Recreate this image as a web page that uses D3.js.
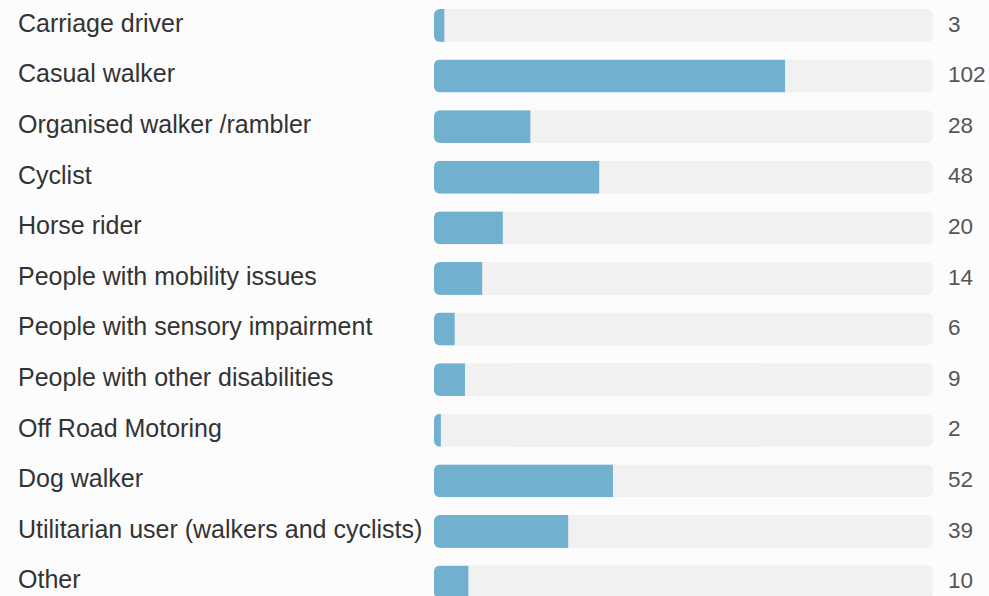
<!DOCTYPE html>
<html>
<head>
<meta charset="utf-8">
<script src="https://cdn.jsdelivr.net/npm/d3@7"></script>
<style>
  html, body { margin: 0; padding: 0; background: #fcfcfc; }
  svg { display: block; }
</style>
</head>
<body>
<div id="chart"></div>
<script>
// Data
const categories = [
  "Carriage driver",
  "Casual walker",
  "Organised walker /rambler",
  "Cyclist",
  "Horse rider",
  "People with mobility issues",
  "People with sensory impairment",
  "People with other disabilities",
  "Off Road Motoring",
  "Dog walker",
  "Utilitarian user (walkers and cyclists)",
  "Other"
];
const counts = [3, 102, 28, 48, 20, 14, 6, 9, 2, 52, 39, 10];
const scaleMax = 145; // total respondents, full track

const width = 989, height = 596;
const trackLeft = 434, trackRight = 933;

const svg = d3.select("#chart")
  .append("svg")
    .attr("width", width)
    .attr("height", height);

// Scales
const x = d3.scaleLinear()
  .domain([0, scaleMax])
  .range([trackLeft, trackRight]);
const y = d3.scaleBand()
  .domain(categories)
  .range([9, 9 + 50.6 * (categories.length - 0.35)])
  .paddingInner(0.35)
  .paddingOuter(0);

const data = categories.map((c, i) => ({name: c, value: counts[i]}));

const rows = svg.append("g")
  .selectAll("g")
  .data(data)
  .join("g")
    .attr("transform", d => `translate(0,${y(d.name)})`);

// clip each bar to its rounded track
rows.append("clipPath")
    .attr("id", (d, i) => "clip" + i)
  .append("rect")
    .attr("x", x(0))
    .attr("width", x(scaleMax) - x(0))
    .attr("height", y.bandwidth())
    .attr("rx", 6);

// Track
rows.append("rect")
    .attr("x", x(0))
    .attr("width", x(scaleMax) - x(0))
    .attr("height", y.bandwidth())
    .attr("rx", 6)
    .attr("fill", "#f1f1f1");

// Bar
rows.append("rect")
    .attr("clip-path", (d, i) => `url(#clip${i})`)
    .attr("x", x(0))
    .attr("width", d => x(d.value) - x(0))
    .attr("height", y.bandwidth())
    .attr("fill", "#72b0d0");

// Labels
rows.append("text")
    .attr("x", 18)
    .attr("y", y.bandwidth() / 2)
    .attr("dy", "0.25em")
    .attr("font-family", "Liberation Sans, Arial, sans-serif")
    .attr("font-size", 25)
    .attr("fill", "#333")
    .text(d => d.name);

// Values
rows.append("text")
    .attr("x", trackRight + 15)
    .attr("y", y.bandwidth() / 2)
    .attr("dy", "0.27em")
    .attr("font-family", "Liberation Sans, Arial, sans-serif")
    .attr("font-size", 22.5)
    .attr("fill", "#555")
    .text(d => d.value);
</script>
</body>
</html>
